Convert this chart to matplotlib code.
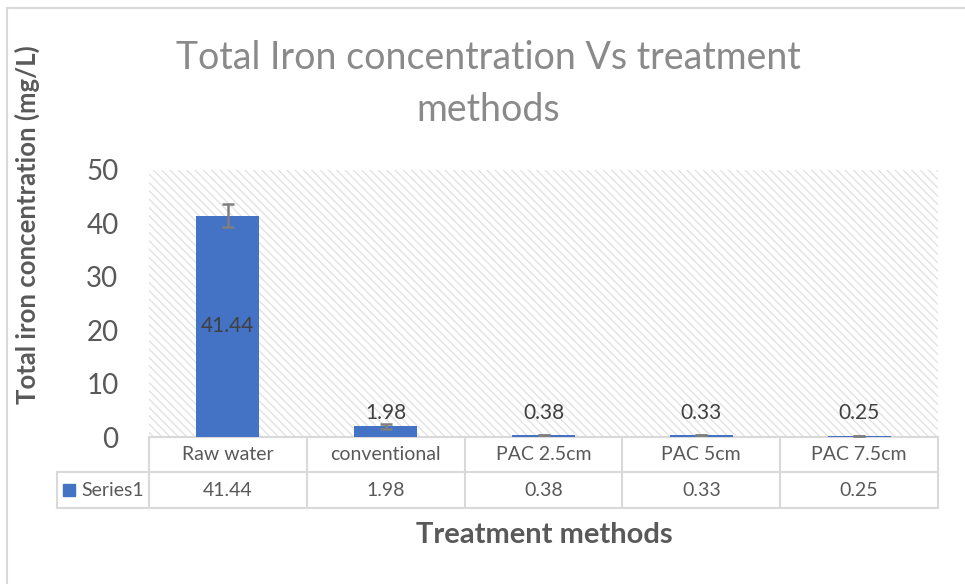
import matplotlib
matplotlib.use("Agg")
import matplotlib.pyplot as plt
from matplotlib.patches import Rectangle
from matplotlib.lines import Line2D
import matplotlib.transforms as mtransforms

categories = ["Raw water", "conventional", "PAC 2.5cm", "PAC 5cm", "PAC 7.5cm"]
values = [41.44, 1.98, 0.38, 0.33, 0.25]
errors = [2.2, 0.5, 0.0, 0.0, 0.0]
value_text = ["41.44", "1.98", "0.38", "0.33", "0.25"]
series_name = "Series1"

blue = "#4472C4"
grid_gray = "#d9d9d9"
text_gray = "#595959"

plt.rcParams["font.family"] = ["Lato", "DejaVu Sans"]

fig = plt.figure(figsize=(9.65, 5.84), dpi=100)
ax = fig.add_axes([149 / 965, 1 - 437 / 584, (938 - 149) / 965, (437 - 170) / 584])

# hatched plot area
ax.add_patch(Rectangle((0, 0), 1, 1, transform=ax.transAxes, fill=False,
                       hatch="\\\\\\\\", edgecolor="#e3e3e3", linewidth=0, zorder=0))

x = list(range(len(categories)))
ax.bar(x, values, width=0.4, color=blue, zorder=2)
ax.errorbar(x, values, yerr=errors, fmt="none", ecolor="#7f7f7f",
            elinewidth=1.8, capsize=4.5, capthick=1.8, zorder=3)

for i, v in enumerate(values):
    ypos = v / 2 if v > 10 else 4.5
    ax.text(i, ypos, value_text[i], ha="center", va="center",
            fontsize=15, color="#404040", zorder=4)

ax.set_xlim(-0.5, len(categories) - 0.5)
ax.set_ylim(0, 50)
ax.set_yticks(range(0, 51, 10))
ax.tick_params(axis="y", length=0, labelsize=20, labelcolor=text_gray, pad=22)
ax.set_xticks([])
for s in ax.spines.values():
    s.set_visible(False)

ax.set_ylabel("Total iron concentration (mg/L)", fontsize=18.5, fontweight="bold",
              color=text_gray)
ax.yaxis.set_label_coords(-0.138, 0.794)

# data table below the axis
trans = mtransforms.blended_transform_factory(ax.transData, ax.transAxes)
row1 = -35 / 267
row2 = -71 / 267
left_cell = -1.083
n = len(categories)
lw = 1.5

def hline(x0, x1, y, color=grid_gray, width=lw):
    ax.add_line(Line2D([x0, x1], [y, y], transform=trans, color=color,
                       linewidth=width, clip_on=False, zorder=1))

def vline(xv, y0, y1):
    ax.add_line(Line2D([xv, xv], [y0, y1], transform=trans, color=grid_gray,
                       linewidth=lw, clip_on=False, zorder=1))

hline(-0.5, n - 0.5, 0)
hline(left_cell, n - 0.5, row1)
hline(left_cell, n - 0.5, row2)
for k in range(n + 1):
    vline(k - 0.5, 0, row2)
vline(left_cell, row1, row2)

for i, c in enumerate(categories):
    ax.text(i, row1 / 2, c, transform=trans, ha="center", va="center",
            fontsize=14, color=text_gray)
    ax.text(i, (row1 + row2) / 2, value_text[i], transform=trans, ha="center",
            va="center", fontsize=14, color=text_gray)

ax.add_patch(Rectangle((left_cell + 0.04, (row1 + row2) / 2 - 0.022), 0.075, 0.044,
                       transform=trans, color=blue, clip_on=False))
ax.text(left_cell + 0.155, (row1 + row2) / 2, series_name, transform=trans,
        ha="left", va="center", fontsize=14, color=text_gray)

fig.text(544 / 965, 1 - 535 / 584, "Treatment methods", ha="center", va="center",
         fontsize=21, fontweight="bold", color=text_gray)

fig.text(488 / 965, 1 - 58 / 584, "Total Iron concentration Vs treatment",
         ha="center", va="center", fontsize=27, color="#8a8a8a")
fig.text(488 / 965, 1 - 110 / 584, "methods",
         ha="center", va="center", fontsize=27, color="#8a8a8a")

# chart outer border (top and left)
fig.add_artist(Line2D([7 / 965, 1], [1 - 8 / 584, 1 - 8 / 584], color=grid_gray, linewidth=1.5))
fig.add_artist(Line2D([7 / 965, 7 / 965], [0, 1 - 8 / 584], color=grid_gray, linewidth=1.5))

fig.savefig("out.png", dpi=100)
